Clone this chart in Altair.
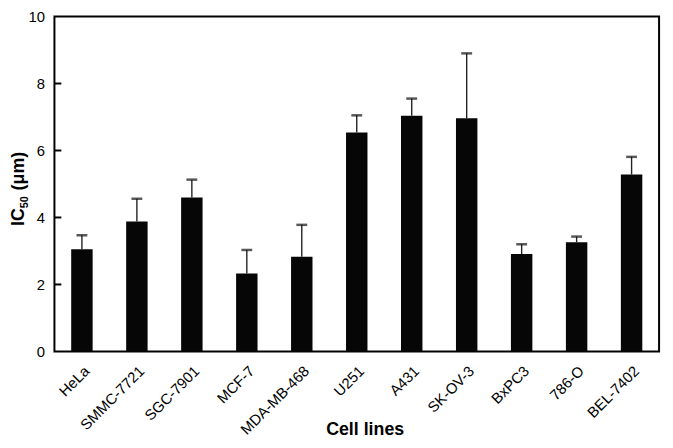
import altair as alt
import pandas as pd

cells = ["HeLa", "SMMC-7721", "SGC-7901", "MCF-7", "MDA-MB-468", "U251",
         "A431", "SK-OV-3", "BxPC3", "786-O", "BEL-7402"]
ic50 = [3.05, 3.88, 4.60, 2.33, 2.83, 6.54, 7.04, 6.96, 2.91, 3.26, 5.28]
sd = [0.42, 0.68, 0.53, 0.70, 0.95, 0.51, 0.51, 1.94, 0.29, 0.17, 0.53]
ytick_values = [0, 2, 4, 6, 8, 10]
inner_ticks = [2, 4, 6, 8]
title_main, title_sub, title_unit = "IC", "50", "(μm)"

df = pd.DataFrame({"cell": cells, "ic50": ic50, "sd": sd})
df["upper"] = df["ic50"] + df["sd"]
tick_df = pd.DataFrame({"t": inner_ticks})
one = pd.DataFrame({"k": [0]})

FONT = "Liberation Sans"

xenc = alt.X(
    "cell:N", sort=cells, title="Cell lines",
    scale=alt.Scale(paddingInner=0.61, paddingOuter=0.305),
    axis=alt.Axis(labelAngle=-45, ticks=False, domain=False, labelFontSize=15,
                  labelPadding=12, labelFont=FONT, labelColor="black",
                  titleFont=FONT, titleFontSize=18, titleFontWeight="bold",
                  titleColor="black", titleY=84, titleX=314,
                  titleBaseline="alphabetic"),
)
yscale = alt.Scale(domain=[0, 10], nice=False)
yaxis = alt.Axis(values=ytick_values, ticks=False, domain=False, grid=False,
                 labelPadding=10, labelFontSize=15, labelFont=FONT,
                 labelColor="black", title=None)

bars = alt.Chart(df).mark_bar(color="#060606").encode(
    x=xenc, y=alt.Y("ic50:Q", scale=yscale, axis=yaxis)
)
err = alt.Chart(df).mark_rule(color="#222222", strokeWidth=1.4).encode(
    x=xenc, y=alt.Y("ic50:Q", scale=yscale, axis=yaxis), y2="upper:Q"
)
caps = alt.Chart(df).mark_tick(color="#111111", thickness=2.5, size=11).encode(
    x=xenc, y=alt.Y("upper:Q", scale=yscale, axis=yaxis)
)
ticks = alt.Chart(tick_df).mark_rule(color="black", strokeWidth=2).encode(
    y=alt.Y("t:Q", scale=yscale, axis=yaxis),
    x=alt.value(0), x2=alt.value(7)
)

def title_part(txt, size, xpos, ypos):
    return alt.Chart(one).mark_text(
        angle=270, align="left", baseline="alphabetic", font=FONT,
        fontSize=size, fontWeight="bold", color="black"
    ).encode(text=alt.value(txt), x=alt.value(xpos), y=alt.value(ypos))

t1 = title_part(title_main, 18, -31, 212)
t2 = title_part(title_sub, 11, -27, 194)
t3 = title_part(title_unit, 18, -31, 176)

chart = alt.layer(bars, err, caps, ticks, t1, t2, t3).properties(
    width=612, height=339,
    padding={"left": 47, "top": 6, "right": 6, "bottom": 87},
    autosize=alt.AutoSizeParams(type="none"),
).configure_view(stroke="black", strokeWidth=2)

chart.save("out.html", embed_options={"renderer": "svg", "actions": False})
